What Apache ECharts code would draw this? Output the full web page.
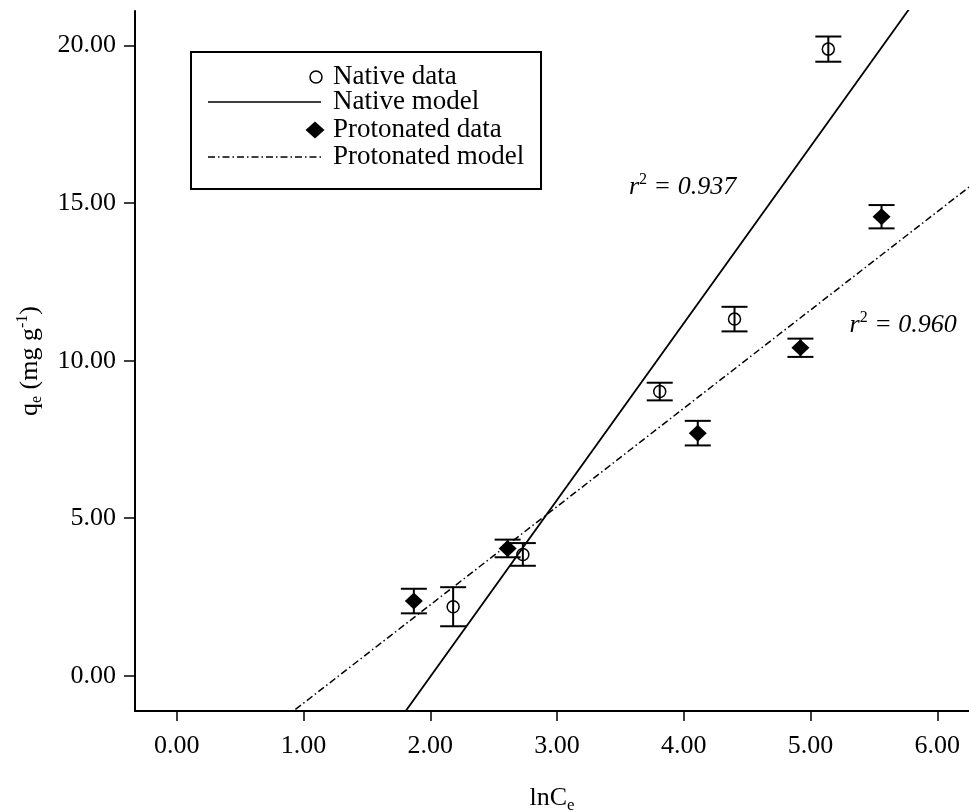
<!DOCTYPE html>
<html>
<head>
<meta charset="utf-8">
<script src="https://cdn.jsdelivr.net/npm/echarts@6/dist/echarts.min.js"></script>
<style>
html, body { margin: 0; padding: 0; background: #fff; }
#main { width: 969px; height: 812px; }
</style>
</head>
<body>
<div id="main"></div>
<script>
// data
var nativeX = [2.18, 2.73, 3.81, 4.40, 5.14];
var nativeY = [2.19, 3.85, 9.02, 11.32, 19.89];
var nativeErr = [0.62, 0.36, 0.28, 0.39, 0.40];

var protX = [1.87, 2.61, 4.11, 4.92, 5.56];
var protY = [2.37, 4.04, 7.70, 10.41, 14.57];
var protErr = [0.39, 0.28, 0.39, 0.29, 0.37];

// linear fits (q = slope * lnC + intercept)
var nativeFit = [5.61, -11.25];
var protFit = [3.12, -3.99];
var r2Labels = ['0.937', '0.960'];

var xTicks = [0, 1, 2, 3, 4, 5, 6];
var yTicks = [0, 5, 10, 15, 20];
var seriesNames = ['Native data', 'Native model', 'Protonated data', 'Protonated model'];

var xMin = -0.33, xMax = 6.25;
var yMin = -1.12, yMax = 21.1;
var FONT = '"Liberation Serif", "Times New Roman", serif';

function fitLine(fit) {
    return [[xMin, fit[0] * xMin + fit[1]], [xMax, fit[0] * xMax + fit[1]]];
}

function zip(xs, ys) {
    return xs.map(function (x, i) { return [x, ys[i]]; });
}

// error bars as custom series
function errorBars(xs, ys, es) {
    var data = xs.map(function (x, i) { return [x, ys[i] - es[i], ys[i] + es[i]]; });
    return {
        type: 'custom',
        data: data,
        silent: true,
        z: 2,
        encode: { x: 0, y: [1, 2] },
        renderItem: function (params, api) {
            var lo = api.coord([api.value(0), api.value(1)]);
            var hi = api.coord([api.value(0), api.value(2)]);
            var w = 13;
            var st = { stroke: '#000', lineWidth: 2 };
            return {
                type: 'group',
                children: [
                    { type: 'line', shape: { x1: lo[0], y1: lo[1], x2: hi[0], y2: hi[1] }, style: st },
                    { type: 'line', shape: { x1: lo[0] - w, y1: lo[1], x2: lo[0] + w, y2: lo[1] }, style: st },
                    { type: 'line', shape: { x1: hi[0] - w, y1: hi[1], x2: hi[0] + w, y2: hi[1] }, style: st }
                ]
            };
        }
    };
}

function r2Label(pos, txt) {
    return {
        symbol: 'circle',
        symbolSize: 0,
        silent: true,
        label: {
            show: true,
            position: 'inside',
            formatter: '{i|r}{p|2}{i| = ' + txt + '}',
            rich: {
                i: { fontFamily: FONT, fontStyle: 'italic', fontSize: 26, lineHeight: 30, color: '#000' },
                p: { fontFamily: FONT, fontSize: 16, lineHeight: 16, verticalAlign: 'top', color: '#000' }
            }
        },
        data: [{ coord: pos }]
    };
}

var dashDot = [7, 3, 1.5, 3];

var myChart = echarts.init(document.getElementById('main'));

var option = {
    animation: false,
    backgroundColor: '#fff',
    grid: { left: 135, right: 0, top: 11, bottom: 101, containLabel: false, outerBoundsMode: 'none' },
    xAxis: {
        type: 'value',
        min: xMin,
        max: xMax,
        name: '{m|lnC}{s|e}',
        nameLocation: 'middle',
        nameGap: 74,
        nameTextStyle: {
            rich: {
                m: { fontFamily: FONT, fontSize: 26, lineHeight: 26, verticalAlign: 'top', color: '#000' },
                s: { fontFamily: FONT, fontSize: 17, lineHeight: 17, padding: [15, 0, 0, 0], color: '#000' }
            }
        },
        axisLine: { onZero: false, lineStyle: { color: '#000', width: 2 } },
        axisTick: { show: true, customValues: xTicks, length: 10, lineStyle: { color: '#000', width: 1.5 } },
        axisLabel: {
            customValues: xTicks,
            formatter: function (v) { return v.toFixed(2); },
            fontFamily: FONT, fontSize: 26, color: '#000', margin: 22
        },
        splitLine: { show: false }
    },
    yAxis: {
        type: 'value',
        min: yMin,
        max: yMax,
        name: '{m|q}{s|e}{m| (mg g}{p|-1}{m|)}',
        nameLocation: 'middle',
        nameGap: 90,
        nameRotate: 90,
        nameTextStyle: {
            rich: {
                m: { fontFamily: FONT, fontSize: 26, lineHeight: 30, color: '#000' },
                s: { fontFamily: FONT, fontSize: 16, lineHeight: 16, padding: [17, 0, 0, 0], verticalAlign: 'bottom', color: '#000' },
                p: { fontFamily: FONT, fontSize: 16, lineHeight: 16, verticalAlign: 'top', color: '#000' }
            }
        },
        axisLine: { onZero: false, lineStyle: { color: '#000', width: 2 } },
        axisTick: { show: true, customValues: yTicks, length: 11, lineStyle: { color: '#000', width: 1.5 } },
        axisLabel: {
            customValues: yTicks,
            formatter: function (v) { return v.toFixed(2); },
            fontFamily: FONT, fontSize: 26, color: '#000', margin: 19
        },
        splitLine: { show: false }
    },
    series: [
        {
            name: seriesNames[0],
            type: 'scatter',
            data: zip(nativeX, nativeY),
            symbol: 'circle',
            symbolSize: 12,
            z: 4,
            itemStyle: { color: 'transparent', borderColor: '#000', borderWidth: 1.5, opacity: 1 }
        },
        {
            name: seriesNames[1],
            type: 'line',
            data: fitLine(nativeFit),
            showSymbol: false,
            clip: true,
            z: 3,
            lineStyle: { color: '#000', width: 1.8 },
            markPoint: r2Label([3.99, 15.51], r2Labels[0])
        },
        {
            name: seriesNames[2],
            type: 'scatter',
            data: zip(protX, protY),
            symbol: 'diamond',
            symbolSize: [18, 17],
            z: 4,
            itemStyle: { color: '#000', opacity: 1 }
        },
        {
            name: seriesNames[3],
            type: 'line',
            data: fitLine(protFit),
            showSymbol: false,
            clip: true,
            z: 3,
            lineStyle: { color: '#000', width: 1.5, type: dashDot },
            markPoint: r2Label([5.73, 11.13], r2Labels[1])
        },
        errorBars(nativeX, nativeY, nativeErr),
        errorBars(protX, protY, protErr)
    ],
    // legend box drawn by hand to match the original layout
    graphic: [{
        type: 'group',
        x: 191,
        y: 52,
        z: 10,
        children: [
            { type: 'rect', shape: { x: 0, y: 0, width: 350, height: 137 }, style: { fill: '#fff', stroke: '#000', lineWidth: 2 } },
            { type: 'circle', shape: { cx: 125, cy: 25, r: 6 }, style: { fill: 'transparent', stroke: '#000', lineWidth: 1.5 } },
            { type: 'line', shape: { x1: 17, y1: 50, x2: 130, y2: 50 }, style: { stroke: '#000', lineWidth: 1.5 } },
            { type: 'polygon', shape: { points: [[124, 69.5], [133.5, 78], [124, 86.5], [114.5, 78]] }, style: { fill: '#000' } },
            { type: 'line', shape: { x1: 17, y1: 105, x2: 130, y2: 105 }, style: { stroke: '#000', lineWidth: 1.5, lineDash: dashDot } },
            { type: 'text', x: 142, y: 25, style: { text: seriesNames[0], fontFamily: FONT, fontSize: 27, fill: '#000', verticalAlign: 'middle' } },
            { type: 'text', x: 142, y: 50, style: { text: seriesNames[1], fontFamily: FONT, fontSize: 27, fill: '#000', verticalAlign: 'middle' } },
            { type: 'text', x: 142, y: 78, style: { text: seriesNames[2], fontFamily: FONT, fontSize: 27, fill: '#000', verticalAlign: 'middle' } },
            { type: 'text', x: 142, y: 105, style: { text: seriesNames[3], fontFamily: FONT, fontSize: 27, fill: '#000', verticalAlign: 'middle' } }
        ]
    }]
};

myChart.setOption(option);
</script>
</body>
</html>
